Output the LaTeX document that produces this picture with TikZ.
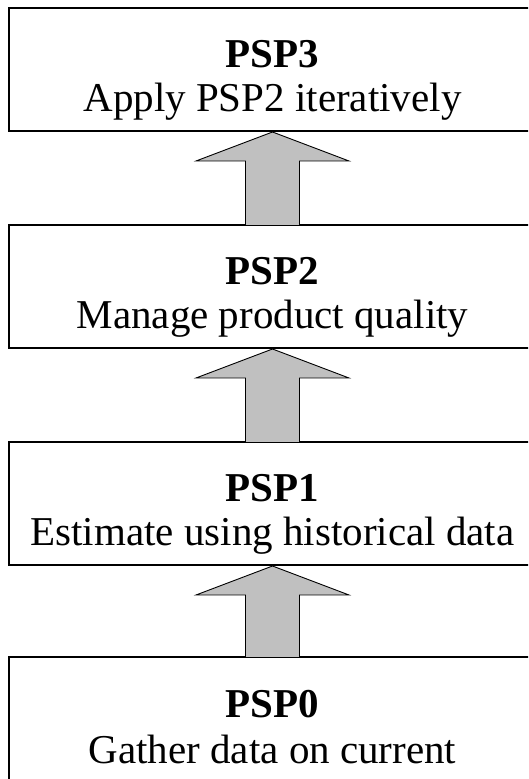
\documentclass[tikz,border=0pt]{standalone}
\usepackage{fontspec}
\setmainfont{Liberation Serif}
\usetikzlibrary{calc}
\definecolor{arrowgray}{RGB}{192,192,192}
\begin{document}
\begin{tikzpicture}[x=1pt,y=1pt,
  levelbox/.style={draw=black, line width=1.3pt, fill=white, rectangle,
    minimum width=527pt, minimum height=123pt, inner sep=0pt, outer sep=0pt},
  title/.style={anchor=base, inner sep=0pt, font=\fontsize{41}{44}\selectfont\bfseries},
  subtitle/.style={anchor=base, inner sep=0pt, font=\fontsize{41}{44}\selectfont},
  fatarrow/.style={fill=arrowgray, draw=black, line width=0.9pt, line join=miter}]
\useasboundingbox (0,0) rectangle (528,779);
\clip (0,0) rectangle (528,779);

% boxes (y measured from the bottom: y = 779 - pixel row)
\node[levelbox] (b3) at (272.5,709.5) {};
\node[levelbox] (b2) at (272.5,492.5) {};
\node[levelbox] (b1) at (272.5,275.5) {};
\node[levelbox] (b0) at (272.5,60.5) {};

% texts
\node[title]    (t3) at ($(b3.north)+(0,-60)$)  {PSP3};
\node[subtitle] (s3) at ($(b3.north)+(0,-104)$) {Apply PSP2 iteratively};
\node[title]    (t2) at ($(b2.north)+(0,-60)$)  {PSP2};
\node[subtitle] (s2) at ($(b2.north)+(0,-104)$) {Manage product quality};
\node[title]    (t1) at ($(b1.north)+(0,-60)$)  {PSP1};
\node[subtitle] (s1) at ($(b1.north)+(0,-104)$) {Estimate using historical data};
\node[title]    (t0) at ($(b0.north)+(0,-61)$)  {PSP0};
\node[subtitle] (s0) at ($(b0.north)+(0,-106)$) {Gather data on current};

% block arrows from lower box up to upper box
\foreach \lo/\hi in {b2/b3, b1/b2, b0/b1}{
  \filldraw[fatarrow]
    ($(\lo.north)+(-27,0)$) |- ($(\hi.south)+(-76.5,-30)$)
    -- ($(\hi.south)+(0,-1)$)
    -- ($(\hi.south)+(76.5,-30)$)
    -| ($(\lo.north)+(27,0)$);
}
\end{tikzpicture}
\end{document}
